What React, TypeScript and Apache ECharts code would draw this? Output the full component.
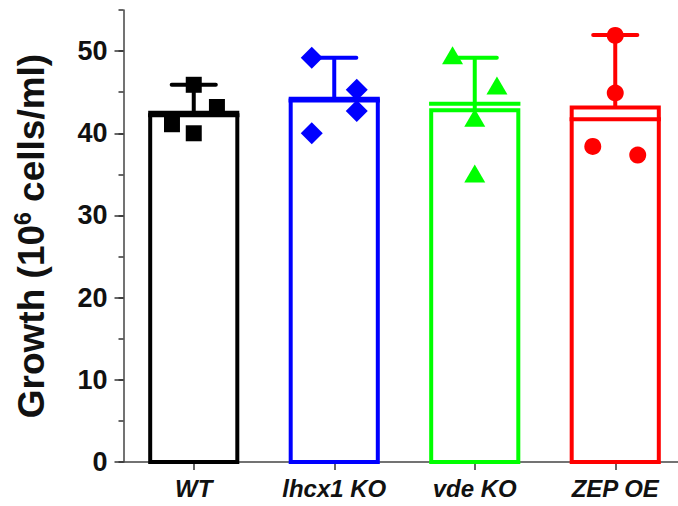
import React, { useEffect, useRef } from "react";
import * as echarts from "echarts";

const categories = ["WT", "lhcx1 KO", "vde KO", "ZEP OE"];
const colors = ["#000000", "#0000ff", "#00ff00", "#ff0000"];
const symbols = ["rect", "diamond", "triangle", "circle"];
const symbolSizes: any[] = [16, 22, [21, 18], 17];

// bar height (mean), inner line (median), error bar top (max)
const barMeans = [42.5, 44.2, 42.8, 43.15];
const medians = [42.2, 44.0, 43.6, 41.7];
const errorTops = [45.9, 49.2, 49.2, 51.95];

// individual points: [x position (category index + jitter), value]
const wtPoints = [[0, 45.9], [0.165, 43.2], [-0.155, 41.1], [0, 40.0]];
const lhcx1Points = [[0.84, 49.2], [1.16, 45.3], [1.16, 42.7], [0.84, 40.0]];
const vdePoints = [[1.842, 49.5], [2.158, 45.8], [2.0, 41.9], [2.0, 35.1]];
const zepPoints = [[3.0, 51.9], [3.0, 44.9], [2.84, 38.4], [3.16, 37.35]];
const pointGroups = [wtPoints, lhcx1Points, vdePoints, zepPoints];

const yMajorTicks = [0, 10, 20, 30, 40, 50];
const xTickValues = [0, 1, 2, 3];

const FONT = "'Liberation Sans', Arial, Helvetica, sans-serif";

export default function App() {
  const ref = useRef<HTMLDivElement>(null);
  useEffect(() => {
    if (!ref.current) return;
    const chart = echarts.init(ref.current, null, { renderer: "svg" });
    const barData = categories.map((_, i) => [i, barMeans[i], medians[i], errorTops[i]]);
    const option: any = {
      animation: false,
      backgroundColor: "#ffffff",
      grid: {
        left: 123.5,
        top: 10,
        width: 562,
        height: 452,
        containLabel: false,
        outerBoundsMode: "none",
      },
      xAxis: {
        type: "value",
        min: -0.5,
        max: 3.5,
        splitLine: { show: false },
        axisLine: { show: true, onZero: false, lineStyle: { color: "#444", width: 1.5 } },
        axisTick: {
          show: true,
          customValues: xTickValues,
          length: 8,
          lineStyle: { color: "#333", width: 1.5 },
        },
        axisLabel: {
          customValues: xTickValues,
          formatter: (v: number) => categories[Math.round(v)] ?? "",
          fontSize: 24,
          fontWeight: "bold",
          fontStyle: "italic",
          fontFamily: FONT,
          color: "#111",
          margin: 14,
        },
      },
      yAxis: [
        {
          type: "value",
          position: "left",
          min: 0,
          max: 55,
          splitLine: { show: false },
          axisLine: { show: true, onZero: false, lineStyle: { color: "#444", width: 1.5 } },
          axisTick: {
            show: true,
            customValues: yMajorTicks,
            length: 9,
            lineStyle: { color: "#333", width: 1.5 },
          },
          axisLabel: {
            customValues: yMajorTicks,
            fontSize: 27,
            fontWeight: "bold",
            fontFamily: FONT,
            color: "#111",
            margin: 16,
          },
          name: "{a|Growth (10}{s|6}{a| cells/ml)}",
          nameLocation: "middle",
          nameGap: 72,
          nameRotate: 90,
          nameTextStyle: {
            rich: {
              a: { fontSize: 37, fontWeight: "bold", fontFamily: FONT, color: "#111", lineHeight: 40 },
              s: { fontSize: 23, fontWeight: "bold", fontFamily: FONT, color: "#111", lineHeight: 26, verticalAlign: "top" },
            },
          },
        },
        {
          type: "value",
          position: "left",
          min: 0,
          max: 55,
          interval: 5,
          splitLine: { show: false },
          axisLine: { show: false, onZero: false },
          axisTick: { show: true, length: 5, lineStyle: { color: "#333", width: 1.5 } },
          axisLabel: { show: false },
        },
      ],
      series: [
        {
          type: "custom",
          clip: false,
          data: barData,
          renderItem: (params: any, api: any) => {
            const i = api.value(0);
            const mean = api.value(1);
            const med = api.value(2);
            const mx = api.value(3);
            const c = colors[i];
            const halfW = 0.31;
            const p0 = api.coord([i - halfW, mean]);
            const p1 = api.coord([i + halfW, 0]);
            const m0 = api.coord([i - 0.325, med]);
            const m1 = api.coord([i + 0.325, med]);
            const e0 = api.coord([i, mean]);
            const e1 = api.coord([i, mx]);
            const c0 = api.coord([i - 0.157, mx]);
            const c1 = api.coord([i + 0.157, mx]);
            return {
              type: "group",
              children: [
                {
                  type: "line",
                  shape: { x1: e0[0], y1: e0[1], x2: e1[0], y2: e1[1] },
                  style: { stroke: c, lineWidth: 4 },
                },
                {
                  type: "line",
                  shape: { x1: c0[0], y1: c0[1], x2: c1[0], y2: c1[1] },
                  style: { stroke: c, lineWidth: 4, lineCap: "round" },
                },
                {
                  type: "rect",
                  shape: { x: p0[0], y: p0[1], width: p1[0] - p0[0], height: p1[1] - p0[1] },
                  style: { fill: "#ffffff", stroke: c, lineWidth: 4 },
                },
                {
                  type: "line",
                  shape: { x1: m0[0], y1: m0[1], x2: m1[0], y2: m1[1] },
                  style: { stroke: c, lineWidth: 4 },
                },
              ],
            };
          },
          z: 2,
        },
        ...pointGroups.map((pts, i) => ({
          type: "scatter",
          data: pts,
          symbol: symbols[i],
          symbolSize: symbolSizes[i],
          itemStyle: { color: colors[i], opacity: 1 },
          z: 3,
        })),
      ],
    };
    chart.setOption(option);
    return () => chart.dispose();
  }, []);
  return (
    <div
      ref={ref}
      style={{ position: "absolute", left: 0, top: 0, width: 678, height: 506, background: "#fff" }}
    />
  );
}
